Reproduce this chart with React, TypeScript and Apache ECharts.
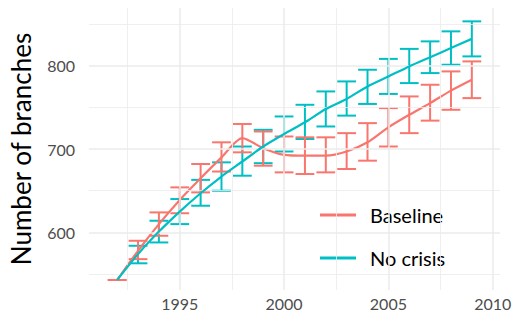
import React, { useEffect, useRef } from "react";
import * as echarts from "echarts";

const years = [1992, 1993, 1994, 1995, 1996, 1997, 1998, 1999, 2000, 2001, 2002, 2003, 2004, 2005, 2006, 2007, 2008, 2009];

const baselineMean = [543, 578, 610, 639, 665, 690, 713, 701, 693, 692, 692, 697, 708, 726, 741, 755, 770, 783];
const baselineLow = [543, 568, 596, 623, 648, 673, 696, 680, 672, 670, 672, 676, 686, 703, 719, 734, 747, 761];
const baselineHigh = [543, 590, 624, 654, 682, 708, 730, 721, 715, 714, 714, 719, 731, 749, 763, 777, 793, 805];

const noCrisisMean = [543, 574, 601, 625, 647, 667, 685, 703, 718, 732, 748, 760, 775, 787, 799, 810, 821, 832];
const noCrisisLow = [543, 563, 588, 610, 632, 650, 668, 683, 697, 712, 727, 740, 754, 766, 779, 791, 801, 811];
const noCrisisHigh = [543, 584, 614, 640, 663, 684, 703, 723, 739, 753, 769, 781, 795, 808, 820, 829, 841, 853];

const xTickLabels = [1995, 2000, 2005, 2010];
const xMinorGrid = [1992.5, 1997.5, 2002.5, 2007.5];
const yTickLabels = [600, 700, 800];
const yMinorGrid = [550, 650, 750, 850];

const RED = "#F8766D";
const CYAN = "#00BFC4";
const FONT = "Lato";

function errorBarSeries(name: string, color: string, low: number[], high: number[], skipFirst: boolean) {
  const data = years
    .map((y, i) => [y, low[i], high[i]])
    .filter((_, i) => !(skipFirst && i === 0));
  return {
    type: "custom",
    name,
    data,
    encode: { x: 0, y: [1, 2] },
    z: 3,
    silent: true,
    renderItem: (_params: any, api: any) => {
      const x = api.value(0);
      const lo = api.value(1);
      const hi = api.value(2);
      const pLo = api.coord([x, lo]);
      const pHi = api.coord([x, hi]);
      const half = api.size([0.9, 0])[0] / 2;
      const style = { stroke: color, lineWidth: 2, fill: "none" };
      return {
        type: "group",
        children: [
          { type: "line", shape: { x1: pLo[0], y1: pLo[1], x2: pHi[0], y2: pHi[1] }, style },
          { type: "line", shape: { x1: pLo[0] - half, y1: pLo[1], x2: pLo[0] + half, y2: pLo[1] }, style },
          { type: "line", shape: { x1: pHi[0] - half, y1: pHi[1], x2: pHi[0] + half, y2: pHi[1] }, style },
        ],
      };
    },
  };
}

export default function App() {
  const ref = useRef<HTMLDivElement>(null);
  useEffect(() => {
    if (!ref.current) return;
    const chart = echarts.init(ref.current, null, { renderer: "svg" });
    const gridLine = (w: number) => ({ color: "#ebebeb", width: w, type: "solid" as const });
    const markLines = [
      ...xTickLabels.map((v) => ({ xAxis: v, lineStyle: gridLine(1.5) })),
      ...xMinorGrid.map((v) => ({ xAxis: v, lineStyle: gridLine(0.8) })),
      ...yTickLabels.map((v) => ({ yAxis: v, lineStyle: gridLine(1.5) })),
      ...yMinorGrid.map((v) => ({ yAxis: v, lineStyle: gridLine(0.8) })),
    ];
    chart.setOption({
      animation: false,
      backgroundColor: "#ffffff",
      grid: { left: 87, right: 15, top: 8, bottom: 32, containLabel: false },
      xAxis: {
        type: "value",
        min: 1990.65,
        max: 2010.35,
        axisLine: { show: false },
        axisTick: { show: false },
        splitLine: { show: false },
        axisLabel: {
          customValues: xTickLabels,
          color: "#4d4d4d",
          fontSize: 16,
          fontFamily: FONT,
          margin: 5,
          formatter: (v: number) => String(v),
        },
      },
      yAxis: {
        type: "value",
        min: 531,
        max: 869,
        name: "Number of branches",
        nameLocation: "middle",
        nameGap: 55,
        nameRotate: 90,
        nameTextStyle: { color: "#000000", fontSize: 26, fontFamily: FONT },
        axisLine: { show: false },
        axisTick: { show: false },
        splitLine: { show: false },
        axisLabel: {
          customValues: yTickLabels,
          color: "#4d4d4d",
          fontSize: 16,
          fontFamily: FONT,
          margin: 14,
        },
      },
      legend: {
        orient: "vertical",
        left: 315,
        top: 199,
        itemWidth: 36,
        itemHeight: 3,
        itemGap: 21,
        icon: "rect",
        data: ["Baseline", "No crisis"],
        textStyle: { color: "#000000", fontSize: 20, fontFamily: FONT, lineHeight: 22, padding: [0, 0, 0, 9] },
        selectedMode: false,
      },
      series: [
        {
          type: "line",
          name: "_grid",
          data: [],
          z: 0,
          silent: true,
          markLine: { silent: true, symbol: "none", label: { show: false }, animation: false, data: markLines },
        },
        errorBarSeries("_ebC", CYAN, noCrisisLow, noCrisisHigh, true),
        errorBarSeries("_ebR", RED, baselineLow, baselineHigh, false),
        {
          type: "line",
          name: "Baseline",
          data: years.map((y, i) => [y, baselineMean[i]]),
          smooth: 0.25,
          showSymbol: false,
          symbol: "none",
          color: RED,
          lineStyle: { color: RED, width: 2.2 },
          z: 4,
        },
        {
          type: "line",
          name: "No crisis",
          data: years.map((y, i) => [y, noCrisisMean[i]]),
          smooth: 0.25,
          showSymbol: false,
          symbol: "none",
          color: CYAN,
          lineStyle: { color: CYAN, width: 2.2 },
          z: 5,
        },
      ],
    });
    return () => chart.dispose();
  }, []);
  return <div ref={ref} style={{ width: 515, height: 322, position: "absolute", left: 0, top: 0 }} />;
}
